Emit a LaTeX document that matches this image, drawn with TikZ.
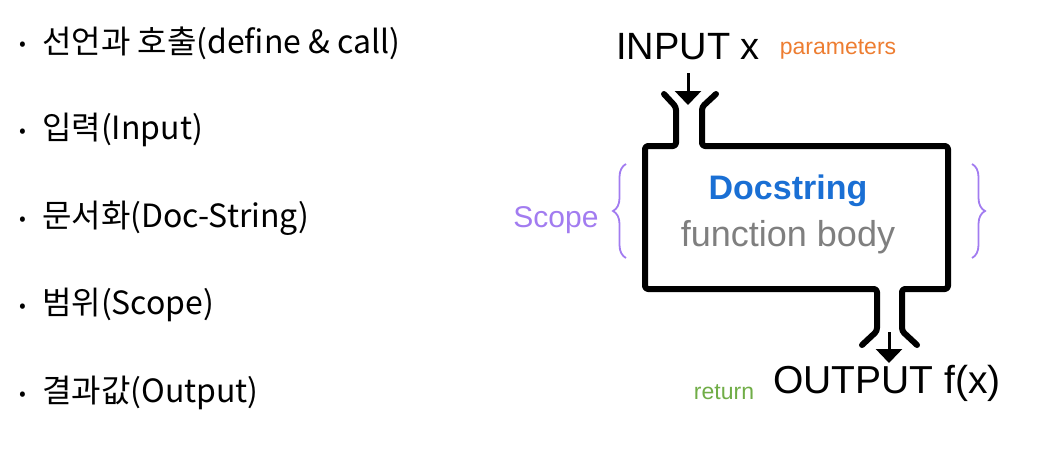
\documentclass[tikz,border=0pt]{standalone}
\usepackage{fontspec}
\setmainfont{Liberation Sans}
\newfontfamily\kr{Noto Sans CJK KR}
\usetikzlibrary{arrows.meta,decorations.pathreplacing}
\definecolor{docblue}{RGB}{26,111,212}
\definecolor{bodygray}{RGB}{127,127,127}
\definecolor{scopepurple}{RGB}{162,124,240}
\definecolor{paramorange}{RGB}{237,125,49}
\definecolor{retgreen}{RGB}{112,173,71}
\tikzset{
  listitem/.style={anchor=west,inner sep=0pt,font=\kr\fontsize{32}{37}\selectfont},
  bulletdot/.style={anchor=center,inner sep=0pt,font=\kr\fontsize{20}{22}\selectfont},
  pipe/.style={line width=6pt,line cap=round,line join=round,rounded corners=3pt},
  flowarrow/.style={line width=3pt,-{Triangle[width=26pt,length=14pt]}},
  scopebrace/.style={scopepurple,line width=1.8pt,decorate},
}
\begin{document}
\begin{tikzpicture}[x=1pt,y=-1pt]
\useasboundingbox (0,0) rectangle (1051,448);
% list
\foreach \yy/\nm/\txt in {43/l1/{선언과 호출(define \& call)},130/l2/{입력(Input)},218/l3/{문서화(Doc-String)},305/l4/{범위(Scope)},393/l5/{결과값(Output)}}{
  \node[bulletdot] (b\nm) at (23,\yy+3) {•};
  \node[listitem] (\nm) at (42,\yy) {\txt};
}
% labels
\node[anchor=center,inner sep=0pt,font=\fontsize{38}{44}\selectfont] (input) at (688,47) {INPUT x};
\node[anchor=center,inner sep=0pt,font=\fontsize{23}{27}\selectfont,text=paramorange] (param) at (838,49) {parameters};
\node[anchor=center,inner sep=0pt,font=\fontsize{39}{46}\selectfont] (output) at (887,383) {OUTPUT f(x)};
\node[anchor=center,inner sep=0pt,font=\fontsize{23}{27}\selectfont,text=retgreen] (ret) at (724,392) {return};
\node[anchor=center,inner sep=0pt,font=\bfseries\fontsize{34}{40}\selectfont,text=docblue] (doc) at (788,191) {Docstring};
\node[anchor=center,inner sep=0pt,font=\fontsize{36}{42}\selectfont,text=bodygray] (body) at (788,237) {function body};
\node[anchor=center,inner sep=0pt,font=\fontsize{30}{36}\selectfont,text=scopepurple] (scope) at (556,220) {Scope};
% pipes
\draw[pipe] (664,94) -- (676,107) -- (676,146) -- (645,146) -- (645,289) -- (877,289) -- (877,331) -- (862,345);
\draw[pipe] (716,94) -- (702,107) -- (702,146) -- (948,146) -- (948,289) -- (902,289) -- (902,331) -- (917,345);
% arrows
\coordinate (inS) at (688,73);
\coordinate (inE) at (688,105);
\coordinate (outS) at (889,332);
\coordinate (outE) at (889,363);
\draw[flowarrow] (inS) -- (inE);
\draw[flowarrow] (outS) -- (outE);
% braces
\coordinate (lbB) at (626,258);
\coordinate (lbT) at (626,164);
\coordinate (rbT) at (972,164);
\coordinate (rbB) at (972,258);
\draw[scopebrace,decoration={brace,amplitude=13pt}] (lbB) -- (lbT);
\draw[scopebrace,decoration={brace,amplitude=13pt}] (rbT) -- (rbB);
\end{tikzpicture}
\end{document}
